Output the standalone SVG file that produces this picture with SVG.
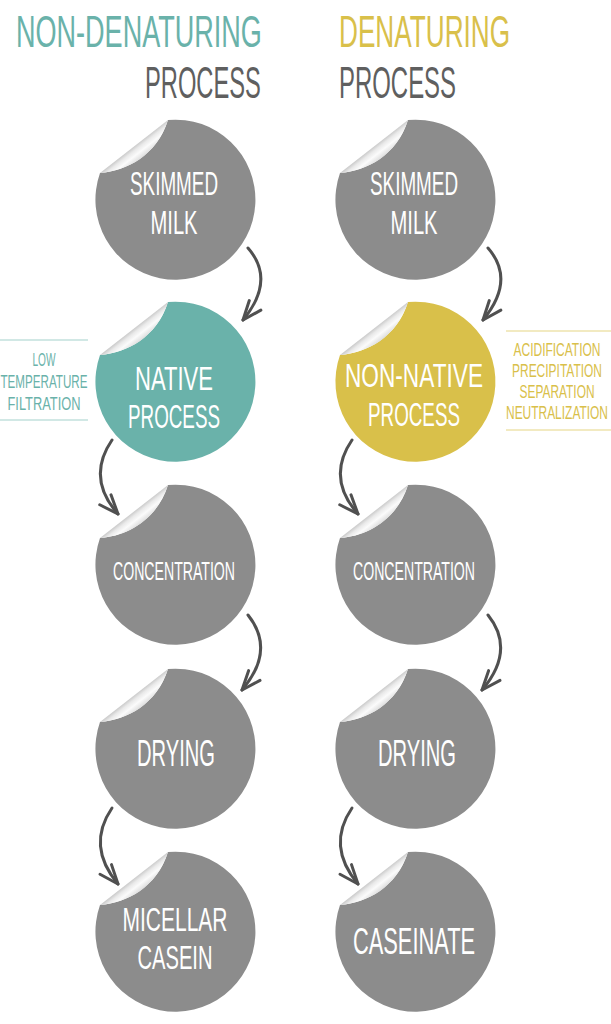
<svg xmlns="http://www.w3.org/2000/svg" xmlns:xlink="http://www.w3.org/1999/xlink" width="611" height="1024" viewBox="0 0 611 1024">
<defs>
<style>
.f { font-family: "Liberation Sans", Arial, sans-serif; font-weight: 400; }
.title { font-size: 45px; }
.teal { fill: #6ab2aa; }
.gold { fill: #d9c04a; }
.dark { fill: #5f5f5f; }
.gray { fill: #8c8c8c; }
.nt { fill: #ffffff; font-size: 34px; text-anchor: middle; }
.ntl { fill: #ffffff; font-size: 37px; text-anchor: middle; }
.nts { fill: #ffffff; font-size: 25px; text-anchor: middle; }
.lbl { font-size: 19px; text-anchor: middle; }
.lblr { font-size: 18.5px; text-anchor: middle; }
.curl { fill: url(#curlGrad); }
.conn { fill: none; stroke: #505050; stroke-width: 3; stroke-linecap: round; marker-end: url(#head); }
</style>
<linearGradient id="curlGrad" gradientUnits="userSpaceOnUse" x1="-42" y1="-54" x2="-31" y2="-40">
<stop offset="0" stop-color="#c2c2c2"/>
<stop offset="0.25" stop-color="#e9e9e9"/>
<stop offset="0.5" stop-color="#fbfbfb"/>
<stop offset="0.78" stop-color="#e2e2e2"/>
<stop offset="1" stop-color="#9e9e9e"/>
</linearGradient>
<path id="disc" d="M-7,-80 A80,80 0 1 1 -75,-27 C-48,-29 -18,-45 -7,-80 Z"/>
<path id="curlShape" d="M-75,-27 C-48,-29 -18,-45 -7,-80 Z"/>
<marker id="head" markerUnits="userSpaceOnUse" viewBox="-25 -15 30 30" markerWidth="30" markerHeight="30" refX="0" refY="0" orient="auto" overflow="visible">
<path d="M-19,-7.5 L0,0 L-19,7.5" fill="none" stroke="#505050" stroke-width="3" stroke-linecap="round" stroke-linejoin="round"/>
</marker>
</defs>
<rect width="611" height="1024" fill="#ffffff"/>

<g id="titles" class="f title">
<text class="teal" transform="translate(16,47) scale(0.596,1)" textLength="412.5" lengthAdjust="spacingAndGlyphs">NON-DENATURING</text>
<text class="dark" transform="translate(145,98) scale(0.527,1)" textLength="220" lengthAdjust="spacingAndGlyphs">PROCESS</text>
<text class="gold" transform="translate(339,47) scale(0.575,1)" textLength="297.5" lengthAdjust="spacingAndGlyphs">DENATURING</text>
<text class="dark" transform="translate(339,98) scale(0.532,1)" textLength="220" lengthAdjust="spacingAndGlyphs">PROCESS</text>
</g>

<g id="label-native" class="f lbl">
<line x1="0" y1="340" x2="88" y2="340" stroke="#c2e1dd" stroke-width="1.5"/>
<line x1="0" y1="420" x2="88" y2="420" stroke="#c2e1dd" stroke-width="1.5"/>
<text class="teal" transform="translate(44,366) scale(0.531,1)" textLength="43.3" lengthAdjust="spacingAndGlyphs">LOW</text>
<text class="teal" transform="translate(44,388) scale(0.606,1)" textLength="143.6" lengthAdjust="spacingAndGlyphs">TEMPERATURE</text>
<text class="teal" transform="translate(44,410) scale(0.659,1)" textLength="110.8" lengthAdjust="spacingAndGlyphs">FILTRATION</text>
</g>

<g id="label-nonnative" class="f lblr">
<line x1="506" y1="331" x2="611" y2="331" stroke="#eee3ac" stroke-width="1.5"/>
<line x1="506" y1="430" x2="611" y2="430" stroke="#eee3ac" stroke-width="1.5"/>
<text class="gold" transform="translate(557,356) scale(0.641,1)" textLength="135.7" lengthAdjust="spacingAndGlyphs">ACIDIFICATION</text>
<text class="gold" transform="translate(557,377) scale(0.636,1)" textLength="141.5" lengthAdjust="spacingAndGlyphs">PRECIPITATION</text>
<text class="gold" transform="translate(557,398) scale(0.629,1)" textLength="119.3" lengthAdjust="spacingAndGlyphs">SEPARATION</text>
<text class="gold" transform="translate(557,419) scale(0.6415,1)" textLength="159" lengthAdjust="spacingAndGlyphs">NEUTRALIZATION</text>
</g>

<g id="connectors">
<path class="conn" d="M248,248 Q276,280 243,320"/>
<path class="conn" d="M112,440 Q86,478 118,514"/>
<path class="conn" d="M248,615 Q276,650 242,690"/>
<path class="conn" d="M112,808 Q86,846 118,884"/>
<path class="conn" d="M488,248 Q516,280 483,320"/>
<path class="conn" d="M352,440 Q326,478 358,514"/>
<path class="conn" d="M488,615 Q516,650 482,690"/>
<path class="conn" d="M352,808 Q326,846 358,884"/>
</g>

<g id="skimmed-milk-left" class="f" transform="translate(175,200)">
<use xlink:href="#disc" class="gray"/>
<use xlink:href="#curlShape" class="curl"/>
<text class="nt" transform="translate(-1,-5) scale(0.555,1)" textLength="158.7" lengthAdjust="spacingAndGlyphs">SKIMMED</text>
<text class="nt" transform="translate(-1,33.5) scale(0.592,1)" textLength="79.4" lengthAdjust="spacingAndGlyphs">MILK</text>
</g>

<g id="native-process" class="f" transform="translate(175,382)">
<use xlink:href="#disc" class="teal"/>
<use xlink:href="#curlShape" class="curl"/>
<text class="nt" transform="translate(-1,7.5) scale(0.635,1)" textLength="122.8" lengthAdjust="spacingAndGlyphs">NATIVE</text>
<text class="nt" transform="translate(-1,46) scale(0.553,1)" textLength="166.3" lengthAdjust="spacingAndGlyphs">PROCESS</text>
</g>

<g id="concentration-left" class="f" transform="translate(175,565)">
<use xlink:href="#disc" class="gray"/>
<use xlink:href="#curlShape" class="curl"/>
<text class="nts" transform="translate(-1,15) scale(0.56,1)" textLength="218" lengthAdjust="spacingAndGlyphs">CONCENTRATION</text>
</g>

<g id="drying-left" class="f" transform="translate(175,749)">
<use xlink:href="#disc" class="gray"/>
<use xlink:href="#curlShape" class="curl"/>
<text class="ntl" transform="translate(1,17) scale(0.542,1)" textLength="143.9" lengthAdjust="spacingAndGlyphs">DRYING</text>
</g>

<g id="micellar-casein" class="f" transform="translate(175,932)">
<use xlink:href="#disc" class="gray"/>
<use xlink:href="#curlShape" class="curl"/>
<text class="nt" transform="translate(0,-1.5) scale(0.618,1)" textLength="170" lengthAdjust="spacingAndGlyphs">MICELLAR</text>
<text class="nt" transform="translate(0,37) scale(0.592,1)" textLength="126.6" lengthAdjust="spacingAndGlyphs">CASEIN</text>
</g>

<g id="skimmed-milk-right" class="f" transform="translate(415,200)">
<use xlink:href="#disc" class="gray"/>
<use xlink:href="#curlShape" class="curl"/>
<text class="nt" transform="translate(-1,-5) scale(0.555,1)" textLength="158.7" lengthAdjust="spacingAndGlyphs">SKIMMED</text>
<text class="nt" transform="translate(-1,33.5) scale(0.592,1)" textLength="79.4" lengthAdjust="spacingAndGlyphs">MILK</text>
</g>

<g id="non-native-process" class="f" transform="translate(415,382)">
<use xlink:href="#disc" class="gold"/>
<use xlink:href="#curlShape" class="curl"/>
<text class="nt" transform="translate(-1,5) scale(0.658,1)" textLength="209.7" lengthAdjust="spacingAndGlyphs">NON-NATIVE</text>
<text class="nt" transform="translate(-1,43.5) scale(0.553,1)" textLength="166.3" lengthAdjust="spacingAndGlyphs">PROCESS</text>
</g>

<g id="concentration-right" class="f" transform="translate(415,565)">
<use xlink:href="#disc" class="gray"/>
<use xlink:href="#curlShape" class="curl"/>
<text class="nts" transform="translate(-1,15) scale(0.56,1)" textLength="218" lengthAdjust="spacingAndGlyphs">CONCENTRATION</text>
</g>

<g id="drying-right" class="f" transform="translate(415,749)">
<use xlink:href="#disc" class="gray"/>
<use xlink:href="#curlShape" class="curl"/>
<text class="ntl" transform="translate(2,17) scale(0.542,1)" textLength="143.9" lengthAdjust="spacingAndGlyphs">DRYING</text>
</g>

<g id="caseinate" class="f" transform="translate(415,932)">
<use xlink:href="#disc" class="gray"/>
<use xlink:href="#curlShape" class="curl"/>
<text class="ntl" transform="translate(-1,22) scale(0.582,1)" textLength="209.7" lengthAdjust="spacingAndGlyphs">CASEINATE</text>
</g>
</svg>
